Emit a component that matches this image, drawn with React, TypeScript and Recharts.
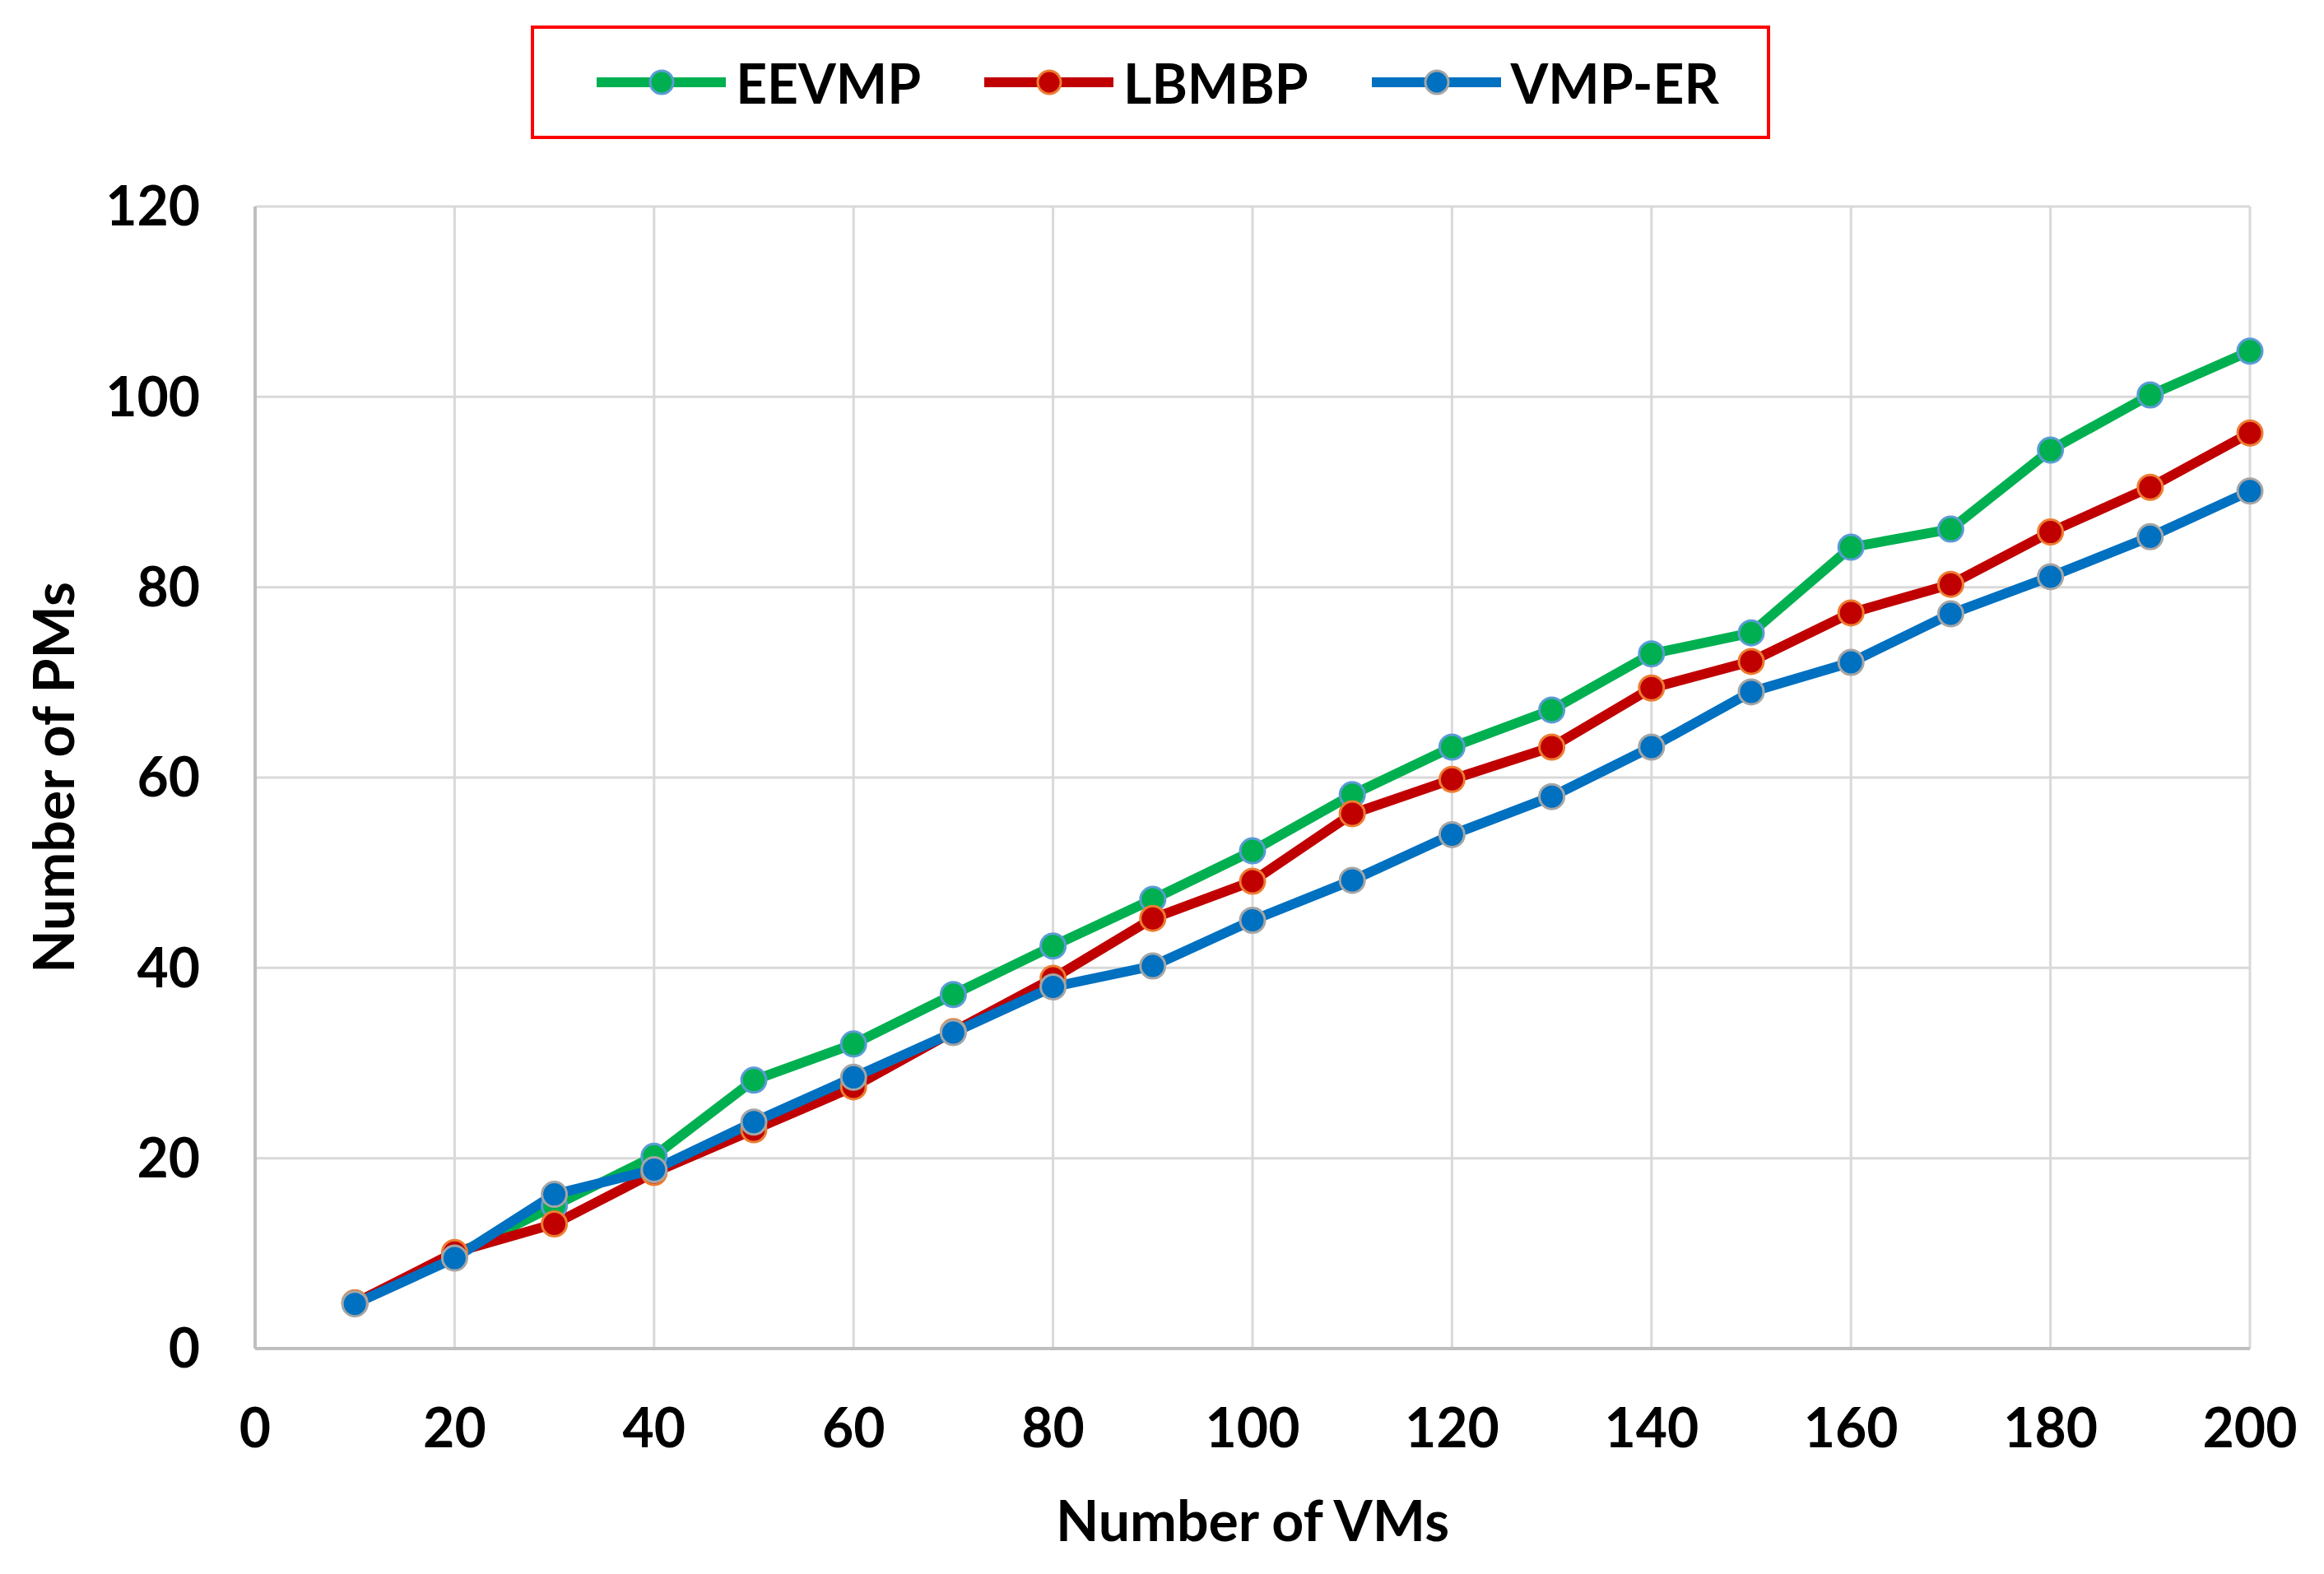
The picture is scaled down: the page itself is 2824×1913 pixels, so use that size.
import React from "react";
import {
  LineChart,
  Line,
  XAxis,
  YAxis,
  CartesianGrid,
  Label,
} from "recharts";

const vms = [10, 20, 30, 40, 50, 60, 70, 80, 90, 100, 110, 120, 130, 140, 150, 160, 170, 180, 190, 200];
const eevmp = [4.8, 9.8, 15, 20.2, 28.2, 32, 37.2, 42.3, 47.2, 52.3, 58.2, 63.2, 67.1, 73, 75.2, 84.2, 86.1, 94.4, 100.2, 104.8];
const lbmbp = [4.8, 10.1, 13.1, 18.5, 23, 27.5, 33.3, 38.9, 45.2, 49.1, 56.2, 59.8, 63.2, 69.4, 72.2, 77.3, 80.3, 85.8, 90.5, 96.2];
const vmpEr = [4.7, 9.5, 16.2, 18.8, 23.8, 28.5, 33.2, 38, 40.2, 45, 49.2, 54, 58, 63.2, 69, 72.1, 77.2, 81.1, 85.3, 90.1];

const xTicks = [0, 20, 40, 60, 80, 100, 120, 140, 160, 180, 200];
const yTicks = [0, 20, 40, 60, 80, 100, 120];

const seriesNames = ["EEVMP", "LBMBP", "VMP-ER"];
const lineColors = ["#00b050", "#c00000", "#0070c0"];
const ringColors = ["#5b9bd5", "#ed7d31", "#a5a5a5"];

const data = vms.map((v, i) => ({
  vms: v,
  EEVMP: eevmp[i],
  LBMBP: lbmbp[i],
  "VMP-ER": vmpEr[i],
}));

const font = "Lato, 'Open Sans', sans-serif";

function LegendBox() {
  return (
    <div
      style={{
        position: "absolute",
        left: 645,
        top: 31,
        width: 1506,
        height: 138,
        boxSizing: "border-box",
        border: "4px solid #ff0000",
        display: "flex",
        alignItems: "center",
        justifyContent: "center",
        gap: 77,
        fontFamily: font,
        fontWeight: 700,
        fontSize: 66,
        paddingLeft: 18,
      }}
    >
      {seriesNames.map((name, i) => (
        <div key={name} style={{ display: "flex", alignItems: "center" }}>
          <svg width={157} height={40} style={{ marginRight: 12 }}>
            <line x1={0} y1={20} x2={157} y2={20} stroke={lineColors[i]} strokeWidth={12} />
            <circle cx={79} cy={20} r={14} fill={lineColors[i]} stroke={ringColors[i]} strokeWidth={3} />
          </svg>
          <span style={{ color: "#000" }}>{name}</span>
        </div>
      ))}
    </div>
  );
}

export default function App() {
  const tickStyle = { fill: "#000", fontSize: 66, fontWeight: 700, fontFamily: font };
  return (
    <div style={{ position: "relative", width: 2824, height: 1913, background: "#fff" }}>
      <style>{"body{margin:0}"}</style>
      <LineChart
        width={2824}
        height={1913}
        data={data}
        margin={{ top: 251, right: 90, left: 0, bottom: 0 }}
      >
        <CartesianGrid stroke="#d9d9d9" strokeWidth={3} />
        <XAxis
          type="number"
          dataKey="vms"
          domain={[0, 200]}
          ticks={xTicks}
          interval={0}
          height={274}
          tickSize={0}
          tickMargin={73}
          tickLine={false}
          axisLine={{ stroke: "#bfbfbf", strokeWidth: 4 }}
          tick={tickStyle}
        >
          <Label
            content={(props: any) => {
              const vb = props.viewBox;
              return (
                <text
                  x={vb.x + vb.width / 2}
                  y={vb.y + vb.height - 40}
                  textAnchor="middle"
                  fill="#000"
                  fontSize={68}
                  fontWeight={700}
                  fontFamily={font}
                >
                  Number of VMs
                </text>
              );
            }}
          />
        </XAxis>
        <YAxis
          type="number"
          domain={[0, 120]}
          ticks={yTicks}
          interval={0}
          width={310}
          tickSize={0}
          tickMargin={67}
          tickLine={false}
          axisLine={{ stroke: "#bfbfbf", strokeWidth: 4 }}
          tick={tickStyle}
        >
          <Label
            content={(props: any) => {
              const vb = props.viewBox;
              const cx = vb.x + 63;
              const cy = vb.y + vb.height / 2;
              return (
                <text
                  x={cx}
                  y={cy}
                  transform={`rotate(-90 ${cx} ${cy})`}
                  textAnchor="middle"
                  dominantBaseline="central"
                  fill="#000"
                  fontSize={68}
                  fontWeight={700}
                  fontFamily={font}
                >
                  Number of PMs
                </text>
              );
            }}
          />
        </YAxis>
        {seriesNames.map((name, i) => (
          <Line
            key={name}
            type="linear"
            dataKey={name}
            stroke={lineColors[i]}
            strokeWidth={12}
            dot={{ r: 15, fill: lineColors[i], stroke: ringColors[i], strokeWidth: 3 }}
            activeDot={false}
            isAnimationActive={false}
          />
        ))}
      </LineChart>
      <LegendBox />
    </div>
  );
}
